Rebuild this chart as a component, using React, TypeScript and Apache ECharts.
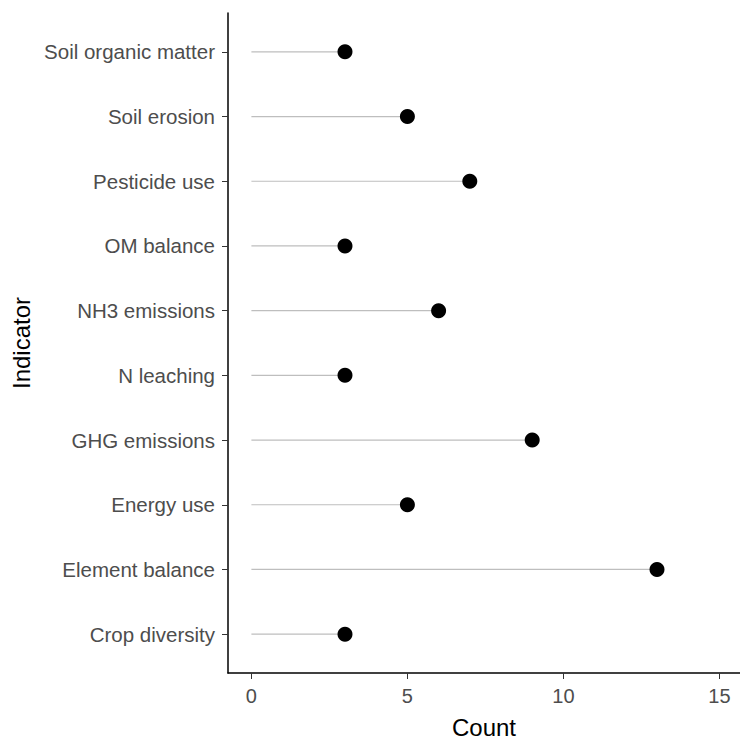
import React, { useEffect, useRef } from "react";
import * as echarts from "echarts";

const categories = [
  "Crop diversity",
  "Element balance",
  "Energy use",
  "GHG emissions",
  "N leaching",
  "NH3 emissions",
  "OM balance",
  "Pesticide use",
  "Soil erosion",
  "Soil organic matter",
];
const counts = [3, 13, 5, 9, 3, 6, 3, 7, 5, 3];
const xTicks = [0, 5, 10, 15];

const FONT = "'Liberation Sans', Arial, Helvetica, sans-serif";

export default function App() {
  const ref = useRef<HTMLDivElement>(null);
  useEffect(() => {
    if (!ref.current) return;
    const chart = echarts.init(ref.current, null, { renderer: "svg" });
    const yIdx = categories.map((_, i) => i);
    const data = counts.map((v, i) => [v, i]);
    chart.setOption({
      animation: false,
      backgroundColor: "#ffffff",
      grid: { left: 228, top: 13, right: 0, bottom: 63, containLabel: false },
      xAxis: {
        type: "value",
        min: -0.75,
        max: 15.66,
        name: "Count",
        nameLocation: "middle",
        nameGap: 54,
        nameTextStyle: { fontFamily: FONT, fontSize: 24, color: "#000", verticalAlign: "middle" },
        axisLine: { show: true, onZero: false, lineStyle: { color: "#000", width: 1.5 } },
        axisTick: { show: true, length: 6, customValues: xTicks, lineStyle: { color: "#333", width: 1 } },
        axisLabel: {
          customValues: xTicks,
          margin: 13,
          fontFamily: FONT,
          fontSize: 20,
          color: "#4d4d4d",
        },
        splitLine: { show: false },
      },
      yAxis: {
        type: "value",
        min: -0.6,
        max: 9.6,
        name: "Indicator",
        nameLocation: "middle",
        nameGap: 203,
        nameRotate: 90,
        nameTextStyle: { fontFamily: FONT, fontSize: 24, color: "#000", verticalAlign: "middle" },
        axisLine: { show: true, onZero: false, lineStyle: { color: "#000", width: 1.5 } },
        axisTick: { show: true, length: 6, customValues: yIdx, lineStyle: { color: "#333", width: 1 } },
        axisLabel: {
          customValues: yIdx,
          margin: 13,
          fontFamily: FONT,
          fontSize: 20.5,
          color: "#4d4d4d",
          formatter: (v: number) => categories[Math.round(v)] ?? "",
        },
        splitLine: { show: false },
      },
      series: [
        {
          type: "custom",
          data,
          renderItem: (params: any, api: any) => {
            const v = api.value(0);
            const i = api.value(1);
            const p0 = api.coord([0, i]);
            const p1 = api.coord([v, i]);
            return {
              type: "line",
              shape: { x1: p0[0], y1: p0[1], x2: p1[0], y2: p1[1] },
              style: { stroke: "#bebebe", lineWidth: 1.2 },
            };
          },
          silent: true,
          z: 1,
        },
        {
          type: "scatter",
          data,
          symbol: "circle",
          symbolSize: 15,
          itemStyle: { color: "#000", opacity: 1 },
          z: 2,
        },
      ],
    });
    return () => chart.dispose();
  }, []);
  return <div ref={ref} style={{ width: 740, height: 744, position: "absolute", left: 0, top: 0 }} />;
}
